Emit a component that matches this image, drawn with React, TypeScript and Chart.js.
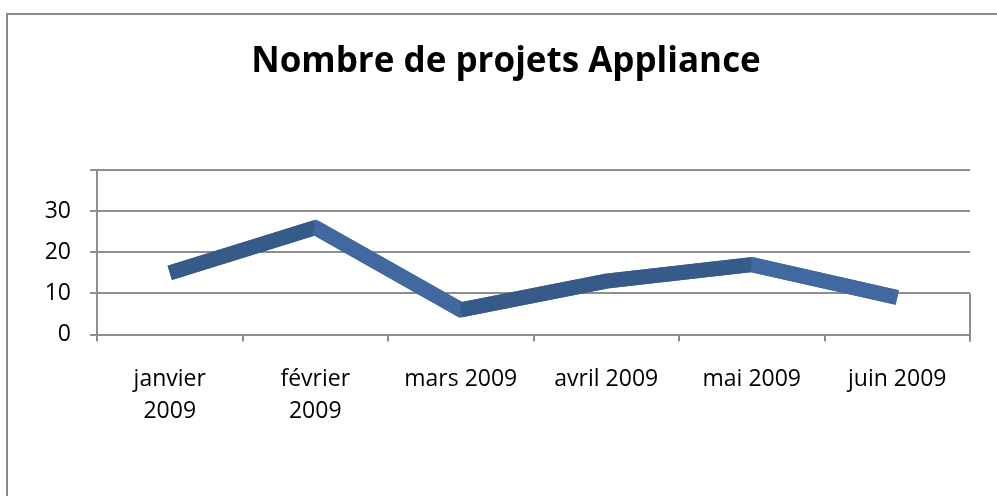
import React, { useEffect, useRef } from "react";
import { Chart, registerables } from "chart.js";

Chart.register(...registerables);

const TITLE = "Nombre de projets Appliance";
const categories: (string | string[])[] = [
  ["janvier", "2009"],
  ["février", "2009"],
  "mars 2009",
  "avril 2009",
  "mai 2009",
  "juin 2009",
];
const projets = [15, 26, 6, 13, 17, 9];
const yTicks = [0, 10, 20, 30];

const DARK = "#375b88";
const FRONT = "#4169a0";
const GRID = "#8e8e8e";

const framePlugin = {
  id: "frame",
  beforeDraw(chart: any) {
    const { ctx } = chart;
    ctx.save();
    ctx.strokeStyle = "#8a8a8a";
    ctx.lineWidth = 2;
    ctx.beginPath();
    ctx.moveTo(7, chart.height + 5);
    ctx.lineTo(7, 14);
    ctx.lineTo(chart.width + 5, 14);
    ctx.stroke();
    ctx.restore();
  },
  afterDraw(chart: any) {
    const { ctx, chartArea } = chart;
    const y = chart.scales.y;
    ctx.save();
    ctx.strokeStyle = GRID;
    ctx.lineWidth = 2;
    ctx.beginPath();
    ctx.moveTo(chartArea.right, y.getPixelForValue(10));
    ctx.lineTo(chartArea.right, chartArea.bottom + 7);
    ctx.stroke();
    ctx.restore();
  },
};

export default function App() {
  const ref = useRef<HTMLCanvasElement>(null);
  useEffect(() => {
    if (!ref.current) return;
    const chart = new Chart(ref.current, {
      type: "line",
      data: {
        labels: categories,
        datasets: [
          {
            data: projets,
            borderColor: FRONT,
            borderWidth: 15,
            borderJoinStyle: "miter",
            borderCapStyle: "butt",
            pointRadius: 0,
            tension: 0,
            order: 2,
          },
          {
            data: projets,
            borderColor: FRONT,
            borderWidth: 15,
            borderJoinStyle: "miter",
            borderCapStyle: "butt",
            pointRadius: 0,
            tension: 0,
            order: 1,
            segment: {
              borderColor: (c: any) => (c.p0.parsed.y < c.p1.parsed.y ? DARK : FRONT),
            },
          },
        ],
      },
      options: {
        animation: false,
        responsive: false,
        layout: { padding: { left: 42, right: 27, top: 20, bottom: 47 } },
        plugins: {
          legend: { display: false },
          tooltip: { enabled: false },
          title: {
            display: true,
            text: TITLE,
            color: "#000",
            font: { family: "Open Sans", size: 35, weight: "bold", lineHeight: 1.2 },
            padding: { top: 21, bottom: 87 },
          },
        },
        scales: {
          x: {
            offset: true,
            grid: {
              offset: true,
              drawOnChartArea: false,
              drawTicks: true,
              tickLength: 7,
              color: GRID,
              lineWidth: 2,
            },
            border: { display: true, color: GRID, width: 2 },
            ticks: {
              color: "#000",
              padding: 22,
              maxRotation: 0,
              autoSkip: false,
              font: { family: "Open Sans", size: 23, lineHeight: 1.38 },
            },
          },
          y: {
            min: 0,
            max: 40,
            afterBuildTicks: (s: any) => {
              s.ticks = [...yTicks, 40].map((v) => ({ value: v }));
            },
            afterFit: (s: any) => {
              s.width = 55;
            },
            grid: { color: GRID, lineWidth: 2, tickLength: 7 },
            border: { display: true, color: GRID, width: 2 },
            ticks: {
              color: "#000",
              padding: 19,
              font: { family: "Open Sans", size: 23 },
              callback: (v: any) => (yTicks.includes(Number(v)) ? String(v) : ""),
            },
          },
        },
      },
      plugins: [framePlugin],
    });
    return () => chart.destroy();
  }, []);
  return (
    <div style={{ position: "absolute", left: 0, top: 0, width: 997, height: 496, background: "#fff" }}>
      <canvas ref={ref} width={997} height={496} />
    </div>
  );
}
